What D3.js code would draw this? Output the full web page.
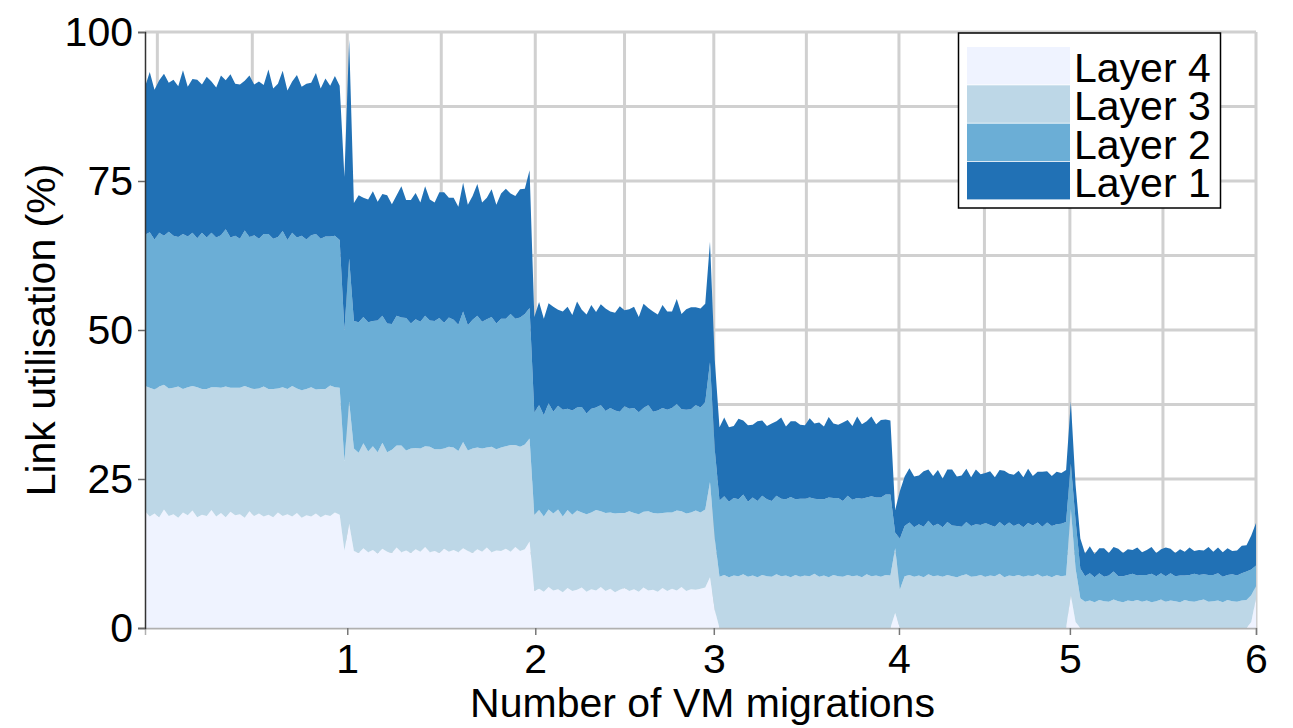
<!DOCTYPE html>
<html><head><meta charset="utf-8">
<script src="https://cdn.jsdelivr.net/npm/d3@7"></script>
<style>
body{margin:0;background:#fff}
svg{display:block}
text{font-family:"Liberation Sans",Arial,Helvetica,sans-serif}
</style>
</head><body>
<svg id="chart" width="1293" height="728"></svg>
<script>
// ---------------- DATA ----------------
const sampleStep = 0.5;            // time between samples (x units)
const layerNames = ["Layer 4", "Layer 3", "Layer 2", "Layer 1"];   // bottom -> top
const layerColors = ["#eff3ff", "#bdd7e7", "#6baed6", "#2171b5"];

// per-layer link utilisation (%) — thickness of each layer
const layer4 = [
  19.6,18.7,19.2,18.6,19.9,18.8,19.1,18.5,19.4,18.9,19.7,18.6,19.0,18.8,19.8,18.7,19.3,18.6,19.5,18.9,19.1,18.5,19.6,18.8,19.2,18.7,19.0,18.6,19.4,18.8,19.1,18.7,19.3,18.5,18.9,18.7,19.2,18.6,19.0,18.8,19.4,19.0,
  13.0,17.5,
  12.9,12.6,13.4,12.7,13.1,12.5,13.3,12.8,12.6,13.5,12.7,13.0,12.6,13.2,12.8,13.6,12.7,12.9,12.6,13.3,12.8,13.1,12.7,13.4,12.9,12.6,13.2,12.8,13.5,12.7,13.0,12.9,13.3,12.8,13.6,12.9,13.2,
  14.5,
  6.2,6.6,6.1,6.9,6.3,6.5,6.0,6.7,6.2,6.4,6.8,6.1,6.5,6.3,6.9,6.2,6.6,6.0,6.4,6.7,6.2,6.5,6.1,6.8,6.3,6.4,6.1,6.7,6.2,6.6,6.3,6.9,6.2,6.5,6.4,6.6,6.8,
  8.5,3.0,
  0,0,0,0,0,0,0,0,0,0,0,0,0,0,0,0,0,0,0,0,0,0,0,0,0,0,0,0,0,0,0,0,0,0,0,0,0,
  2.5,
  0,0,0,0,0,0,0,0,0,0,0,0,0,0,0,0,0,0,0,0,0,0,0,0,0,0,0,0,0,0,0,0,0,0,0,0,
  5.5,1.0,
  0,0,0,0,0,0,0,0,0,0,0,0,0,0,0,0,0,0,0,0,0,0,0,0,0,0,0,0,0,0,0,0,0,0,0,0,
  1.0,5.0
];
const layer3 = [
  21.0,21.6,20.8,21.9,20.9,21.4,21.2,22.0,20.7,21.5,20.9,21.8,21.1,21.3,20.6,21.7,21.0,21.9,20.8,21.4,21.2,22.1,20.7,21.3,21.0,21.8,21.1,21.5,20.8,21.6,21.0,21.9,20.9,21.4,21.2,21.7,20.8,21.5,21.1,21.9,21.0,21.3,
  15.0,20.5,
  17.2,16.8,17.6,16.9,17.4,17.0,17.8,16.7,17.3,17.1,17.9,16.8,17.5,17.0,17.3,16.9,17.7,17.1,17.4,16.8,17.6,17.2,17.0,17.8,16.9,17.5,17.1,17.3,16.8,17.7,17.0,17.4,17.2,17.9,17.1,17.5,17.6,
  17.3,
  12.8,13.2,12.6,13.0,12.9,13.4,12.7,13.1,12.8,13.3,12.6,13.0,12.9,13.5,12.7,13.1,12.8,13.2,12.9,12.6,13.4,12.8,13.0,12.7,13.3,12.9,13.1,12.6,13.2,12.8,13.4,12.7,13.0,12.9,13.3,12.8,13.1,
  16.0,12.0,
  8.6,8.9,8.5,8.8,8.7,9.0,8.6,8.8,8.5,8.9,8.7,8.6,9.0,8.7,8.8,8.5,8.9,8.6,8.8,8.7,9.1,8.6,8.8,8.5,8.9,8.7,8.6,8.9,8.7,8.8,8.5,9.0,8.7,8.8,8.6,8.9,8.8,
  10.9,
  6.5,8.7,8.9,8.6,8.8,8.5,9.0,8.7,8.8,8.6,8.9,8.7,8.5,8.8,9.0,8.6,8.7,8.9,8.6,8.8,8.7,9.1,8.5,8.8,8.7,8.9,8.6,8.8,8.7,9.0,8.6,8.8,8.5,8.9,8.7,8.8,
  14.5,9.0,5.0,
  4.4,4.6,4.3,4.7,4.5,4.4,4.8,4.5,4.3,4.6,4.5,4.7,4.4,4.6,4.3,4.5,4.8,4.4,4.6,4.5,4.3,4.7,4.5,4.4,4.6,4.8,4.4,4.5,4.6,4.3,4.7,4.5,4.4,4.6,4.7,
  4.5,2.0
];
const layer2 = [
  25.4,26.1,25.2,25.8,25.0,26.3,25.5,25.1,26.0,25.3,25.7,25.0,26.2,25.4,25.9,25.1,25.6,26.4,25.2,25.5,25.0,26.1,25.3,25.8,25.1,25.6,26.0,25.2,25.4,26.2,25.0,25.7,25.3,25.9,25.1,25.5,26.1,25.2,25.6,25.0,25.4,24.8,
  22.0,24.0,
  21.4,21.9,21.2,21.7,21.0,22.1,21.3,21.6,21.1,21.8,21.5,22.2,21.0,21.6,21.3,21.9,21.2,21.5,22.0,21.1,21.7,21.4,21.2,21.9,21.0,21.6,22.1,21.3,21.5,21.8,21.1,21.6,21.4,22.0,21.2,21.7,21.9,
  21.9,
  17.2,17.6,17.0,17.8,17.1,17.4,17.9,17.0,17.5,17.3,17.7,16.9,17.4,17.2,17.8,17.1,17.5,17.3,17.0,17.9,17.2,17.6,17.1,17.4,17.8,17.0,17.3,17.6,17.2,17.5,17.9,17.1,17.4,17.3,17.7,17.6,18.0,
  20.1,15.0,
  12.8,13.2,12.7,13.0,12.9,13.4,12.6,13.1,12.8,13.3,12.9,12.7,13.2,13.0,12.8,13.5,12.7,13.1,12.9,13.2,12.6,13.0,12.8,13.4,12.9,13.1,12.7,13.3,12.8,13.0,13.2,12.9,13.4,13.1,13.3,13.5,13.6,
  2.6,
  8.5,8.4,8.8,8.3,8.6,8.5,9.0,8.4,8.7,8.3,8.9,8.5,8.6,8.2,8.8,8.5,8.7,8.4,9.0,8.5,8.3,8.7,8.6,8.9,8.4,8.6,8.3,8.8,8.5,8.7,8.4,8.9,8.6,8.5,8.8,9.0,
  7.6,8.0,5.0,
  4.3,4.6,4.2,4.5,4.1,4.4,4.7,4.2,4.4,4.3,4.6,4.1,4.5,4.3,4.8,4.2,4.4,4.3,4.6,4.2,4.5,4.1,4.4,4.7,4.3,4.2,4.5,4.4,4.6,4.3,4.2,4.5,4.4,4.6,4.8,
  4.3,3.5
];
const layer1 = [
  24.8,26.9,25.1,25.6,27.2,25.0,26.2,25.3,27.5,25.1,25.8,26.6,24.9,27.0,25.4,25.2,26.8,25.0,27.4,25.5,25.9,25.1,27.1,25.3,26.4,25.0,27.6,25.2,25.7,26.9,25.1,25.4,27.3,25.0,26.1,25.6,27.0,25.2,26.5,25.3,26.8,25.9,
  25.7,36.7,
  19.8,21.3,20.0,20.6,21.8,19.9,20.4,21.5,20.1,20.2,22.0,19.8,20.7,21.2,20.0,21.7,20.3,19.9,21.1,21.9,20.1,20.5,19.8,21.6,20.2,20.8,22.1,20.0,20.4,21.4,19.9,21.0,21.8,20.2,20.6,21.5,21.0,
  23.1,
  16.0,17.3,16.2,16.8,17.6,16.1,16.5,17.1,16.0,17.8,16.3,16.6,17.4,16.0,16.9,17.2,16.2,16.4,17.7,16.1,16.7,17.0,16.0,17.5,16.3,16.8,16.1,17.3,16.5,16.2,17.6,16.0,16.9,17.1,16.4,16.6,16.5,
  20.2,15.0,
  12.3,13.2,12.5,12.1,13.5,12.4,12.8,12.2,13.4,12.6,12.3,13.0,12.5,13.6,12.2,12.7,13.1,12.4,12.3,13.3,12.6,12.9,12.2,13.5,12.5,12.3,13.2,12.7,12.4,13.7,12.5,12.8,13.4,12.3,13.0,12.6,12.4,
  3.8,
  8.0,8.3,9.1,8.5,8.2,9.3,8.6,8.4,9.0,8.2,8.8,9.4,8.3,8.6,8.9,8.2,9.2,8.5,8.4,9.0,8.3,8.7,9.3,8.2,8.6,8.9,8.4,9.1,8.3,8.5,9.2,8.6,8.4,8.8,8.5,8.7,
  10.4,6.0,5.0,
  3.8,4.5,3.9,4.2,4.8,3.8,4.1,4.6,3.9,4.3,4.0,4.7,3.8,4.2,4.5,3.9,4.0,4.8,4.1,3.9,4.4,4.0,4.6,3.8,4.2,4.0,4.7,3.9,4.3,4.1,4.5,3.9,4.2,4.6,4.4,
  5.7,7.1
];

// x positions (time units) of the migration events and their labels
const migrationTimes = [1.3, 21.3, 41.1, 59.9, 79.4, 97.4, 117];
const migrationLabels = ["", "1", "2", "3", "4", "5", "6"];
const yTickValues = [0, 25, 50, 75, 100];
const yGridValues = [0, 12.5, 25, 37.5, 50, 62.5, 75, 87.5, 100];
const xTitle = "Number of VM migrations";
const yTitle = "Link utilisation (%)";

// ---------------- CHART ----------------
(function () {
const layers = [layer4, layer3, layer2, layer1];
const rows = layer4.map((_, i) => {
  const r = { t: i * sampleStep };
  layerNames.forEach((k, j) => r[k] = layers[j][i]);
  return r;
});
layers.forEach((l, j) => { if (l.length !== layer4.length) console.error("length mismatch", layerNames[j], l.length); });

const svg = d3.select("#chart");
const pL = 145, pR = 1256, pT = 32, pB = 628;
const x = d3.scaleLinear().domain([0, 117]).range([pL, pR]);
const y = d3.scaleLinear().domain([0, 100]).range([pB, pT]);

// grid
const gridX = migrationTimes.concat(d3.pairs(migrationTimes).map(([a, b]) => (a + b) / 2));
const grid = svg.append("g").attr("stroke", "#d0d0d0").attr("stroke-width", 3);
grid.selectAll("line.v").data(gridX).join("line").attr("class", "v")
  .attr("x1", d => x(d)).attr("x2", d => x(d)).attr("y1", pT).attr("y2", pB);
grid.selectAll("line.h").data(yGridValues).join("line").attr("class", "h")
  .attr("x1", pL).attr("x2", pR).attr("y1", d => y(d)).attr("y2", d => y(d));

// stacked areas
const stacked = d3.stack().keys(layerNames)(rows);
const area = d3.area().x(d => x(d.data.t)).y0(d => y(d[0])).y1(d => y(d[1]));
svg.append("g").selectAll("path").data(stacked).join("path")
  .attr("fill", (d, i) => layerColors[i]).attr("d", area);

// axes
const fontSize = 41;
const xAxis = svg.append("g").attr("transform", `translate(0,${pB})`)
  .call(d3.axisBottom(x).tickValues(migrationTimes.slice(1))
    .tickFormat((d, i) => migrationLabels[i + 1]).tickSize(7).tickPadding(9));
xAxis.attr("font-family", null).attr("font-size", null);
xAxis.select(".domain").attr("stroke", "#b0b0b0").attr("stroke-width", 1.5);
xAxis.selectAll(".tick line").attr("stroke", "#777").attr("stroke-width", 1.5);
xAxis.selectAll(".tick text").attr("font-size", fontSize).attr("fill", "#000");

const yAxis = svg.append("g").attr("transform", `translate(${pL},0)`)
  .call(d3.axisLeft(y).tickValues(yTickValues).tickSize(7).tickPadding(5));
yAxis.attr("font-family", null).attr("font-size", null);
yAxis.select(".domain").attr("stroke", "#333").attr("stroke-width", 1.5);
yAxis.selectAll(".tick line").attr("stroke", "#666").attr("stroke-width", 1.5);
yAxis.selectAll(".tick text").attr("font-size", fontSize).attr("fill", "#000");

svg.append("text").attr("x", (pL + pR) / 2 + 2).attr("y", 717)
  .attr("text-anchor", "middle").attr("font-size", fontSize).text(xTitle);
svg.append("text").attr("transform", `translate(55,${(pT + pB) / 2}) rotate(-90)`)
  .attr("text-anchor", "middle").attr("font-size", fontSize).text(yTitle);

// legend
const lg = svg.append("g");
lg.append("rect").attr("x", 958.5).attr("y", 33).attr("width", 262).attr("height", 175)
  .attr("fill", "#fff").attr("stroke", "#000").attr("stroke-width", 1.5);
[0, 1, 2, 3].forEach((j, r) => {
  const ry = 47 + r * 38.3;
  lg.append("rect").attr("x", 967).attr("y", ry).attr("width", 103).attr("height", 37.5)
    .attr("fill", layerColors[j]);
  lg.append("text").attr("x", 1074).attr("y", ry + 35).attr("font-size", fontSize)
    .attr("fill", "#000").text(layerNames[j]);
});
})();
</script>
</body></html>
